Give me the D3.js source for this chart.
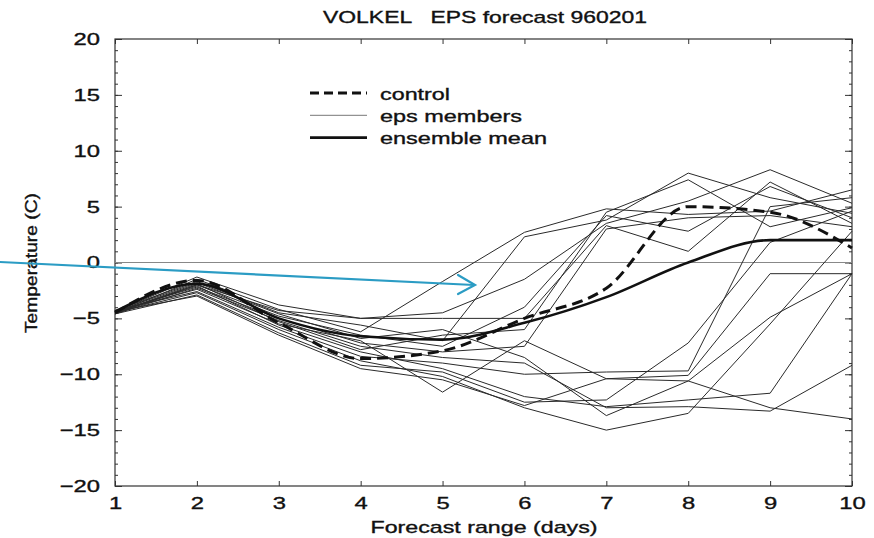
<!DOCTYPE html>
<html>
<head>
<meta charset="utf-8">
<script src="https://d3js.org/d3.v7.min.js"></script>
<style>
  body { margin: 0; background: #fff; }
  text { font-family: "Liberation Sans", Arial, sans-serif; fill: #111; stroke: #111; stroke-width: 0.35px; }
</style>
</head>
<body>
<svg id="chart" width="874" height="538"></svg>
<script>
// forecast days and y tick values
const days = [1, 2, 3, 4, 5, 6, 7, 8, 9, 10];
const yTicks = [-20, -15, -10, -5, 0, 5, 10, 15, 20];
const yMinorTicks = d3.range(-20, 21, 1);

// control run and ensemble mean
const controlRun   = [-4.5, -1.6, -5.4, -8.6, -7.9, -5.0, -2.3, 5.0, 4.5, 1.3];
const ensembleMean = [-4.4, -1.9, -5.0, -6.6, -6.9, -5.4, -3.1, 0.0, 2.0, 2.0];

// eps members
const member01 = [-4.4, -1.3, -3.8, -5.0, -4.5, -1.5, 3.5, 5.5, 8.3, 5.3];
const member02 = [-4.5, -1.5, -4.2, -6.2, -1.7, 2.7, 4.8, 4.3, 4.6, 6.5];
const member03 = [-4.3, -1.7, -4.5, -5.6, -7.0, 2.3, 3.8, 8.0, 5.8, 4.4];
const member04 = [-4.6, -2.0, -4.8, -6.5, -7.5, -4.0, 4.2, 2.8, 6.8, 4.0];
const member05 = [-4.4, -2.2, -5.0, -7.2, -8.0, -7.5, 3.0, 4.0, 4.2, 3.2];
const member06 = [-4.5, -1.9, -5.3, -7.8, -6.5, -6.0, 4.5, 7.4, 3.2, 4.9];
const member07 = [-4.3, -2.6, -5.8, -8.4, -9.0, -10.0, -9.8, -9.7, 5.0, 5.8];
const member08 = [-4.6, -2.9, -6.3, -9.2, -9.8, -12.5, -12.3, -7.2, 1.8, 4.6];
const member09 = [-4.4, -2.4, -5.5, -7.0, -11.6, -7.0, -10.4, -10.1, -1.0, -1.0];
const member10 = [-4.5, -2.1, -5.6, -8.0, -9.5, -12.0, -12.9, -12.3, -11.7, -1.0];
const member11 = [-4.4, -1.8, -4.6, -6.8, -6.0, -8.5, -13.7, -10.6, -4.9, -1.0];
const member12 = [-4.5, -2.7, -6.0, -8.8, -10.2, -13.0, -15.0, -13.5, -5.5, 2.8];
const member13 = [-4.6, -2.3, -5.2, -7.5, -8.5, -9.0, -13.0, -12.9, -13.3, -9.2];
const member14 = [-4.4, -3.0, -6.5, -9.5, -10.5, -12.8, -10.4, -10.6, -13.0, -14.0];
const member15 = [-4.5, -2.0, -4.3, -5.0, -5.0, -5.0, 3.3, 1.0, 7.2, 3.5];
const epsMembers = [member01, member02, member03, member04, member05, member06, member07, member08,
  member09, member10, member11, member12, member13, member14, member15];

// legend entries
const legendItems = [
  { label: "control", len: 70, width: 3, dash: "9,5", color: "#111" },
  { label: "eps members", len: 142, width: 1, dash: null, color: "#777" },
  { label: "ensemble mean", len: 167, width: 2.6, dash: null, color: "#111" }
];

const svg = d3.select("svg#chart");
const plotLeft = 115, plotRight = 852, plotTop = 39, plotBottom = 486;
const stretch = 1.4; // the lettering in the picture is wide

const x = d3.scaleLinear().domain([1, 10]).range([plotLeft, plotRight]);
const y = d3.scaleLinear().domain([-20, 20]).range([plotBottom, plotTop]);

//draws the frame, ticks and labels
function drawAxes() {
  // minor ticks left and right
  svg.append("g").attr("transform", "translate(" + plotLeft + ",0)")
    .call(d3.axisLeft(y).tickValues(yMinorTicks).tickSize(-3).tickSizeOuter(0).tickFormat(""));
  svg.append("g").attr("transform", "translate(" + plotRight + ",0)")
    .call(d3.axisRight(y).tickValues(yMinorTicks).tickSize(-3).tickSizeOuter(0).tickFormat(""));

  // major ticks
  svg.append("g").attr("class", "yaxis").attr("transform", "translate(" + plotLeft + ",0)")
    .call(d3.axisLeft(y).tickValues(yTicks).tickSize(-7).tickSizeOuter(0)
      .tickFormat(d => d < 0 ? "\u2212" + Math.abs(d) : d));
  svg.append("g").attr("transform", "translate(" + plotRight + ",0)")
    .call(d3.axisRight(y).tickValues(yTicks).tickSize(-7).tickSizeOuter(0).tickFormat(""));

  svg.append("g").attr("class", "xaxis").attr("transform", "translate(0," + plotBottom + ")")
    .call(d3.axisBottom(x).tickValues(days).tickSize(-5).tickSizeOuter(0).tickPadding(11).tickFormat(d3.format("d")));
  svg.append("g").attr("transform", "translate(0," + plotTop + ")")
    .call(d3.axisTop(x).tickValues(days).tickSize(-5).tickSizeOuter(0).tickFormat(""));

  svg.selectAll(".tick line").attr("stroke", "#333");
  svg.selectAll(".domain").attr("stroke", "none");
  svg.selectAll(".yaxis text, .xaxis text").style("font-size", "17px").attr("fill", "#111")
    .attr("transform", "scale(" + stretch + ",1)");
  svg.selectAll(".yaxis text").attr("x", -15 / stretch);

  svg.append("rect").attr("x", plotLeft).attr("y", plotTop).attr("width", plotRight - plotLeft)
    .attr("height", plotBottom - plotTop)
    .attr("fill", "none").attr("stroke", "#333").attr("stroke-width", 1.2);

  // zero line
  svg.append("line").attr("x1", plotLeft).attr("x2", plotRight).attr("y1", y(0)).attr("y2", y(0))
    .attr("stroke", "#888").attr("stroke-width", 1);

  svg.append("text").attr("x", 485).attr("y", 23).attr("text-anchor", "middle")
    .attr("textLength", 324).attr("lengthAdjust", "spacingAndGlyphs")
    .style("font-size", "17px").style("white-space", "pre").text("VOLKEL   EPS forecast 960201");
  svg.append("text").attr("x", 484).attr("y", 533).attr("text-anchor", "middle")
    .attr("textLength", 227).attr("lengthAdjust", "spacingAndGlyphs")
    .style("font-size", "17px").text("Forecast range (days)");
  svg.append("text").attr("transform", "translate(37,263) rotate(-90)").attr("text-anchor", "middle")
    .attr("textLength", 140).attr("lengthAdjust", "spacingAndGlyphs")
    .style("font-size", "16px").text("Temperature (C)");
}

//draws the ensemble lines
function drawLines() {
  const memberLine = d3.line().x((d, i) => x(days[i])).y(d => y(d));
  const smoothLine = d3.line().x((d, i) => x(days[i])).y(d => y(d)).curve(d3.curveMonotoneX);

  svg.append("g").selectAll("path").data(epsMembers).join("path")
    .attr("d", memberLine).attr("fill", "none").attr("stroke", "#2a2a2a").attr("stroke-width", 1);

  svg.append("path").attr("d", smoothLine(ensembleMean)).attr("fill", "none")
    .attr("stroke", "#111").attr("stroke-width", 2.6);
  svg.append("path").attr("d", smoothLine(controlRun)).attr("fill", "none")
    .attr("stroke", "#111").attr("stroke-width", 3).attr("stroke-dasharray", "11,6");
}

//draws the legend
function drawLegend() {
  legendItems.forEach(function(d, i) {
    const ly = 93 + i * 22.3;
    svg.append("line").attr("x1", 310).attr("x2", 367).attr("y1", ly).attr("y2", ly)
      .attr("stroke", d.color).attr("stroke-width", d.width).attr("stroke-dasharray", d.dash);
    svg.append("text").attr("x", 380).attr("y", ly + 6.5).style("font-size", "17px")
      .attr("textLength", d.len).attr("lengthAdjust", "spacingAndGlyphs").text(d.label);
  });
}

//draws the blue arrow pointing at the zero line
function drawArrow() {
  const arrow = svg.append("g").attr("stroke", "#2b9cc4").attr("stroke-width", 2.2).attr("fill", "none")
    .attr("stroke-linecap", "round");
  arrow.append("line").attr("x1", 0).attr("y1", 262).attr("x2", 474).attr("y2", 285);
  arrow.append("path").attr("d", "M 458 275 L 475 285 L 458 294");
}

drawAxes();
drawLines();
drawLegend();
drawArrow();
</script>
</body>
</html>
